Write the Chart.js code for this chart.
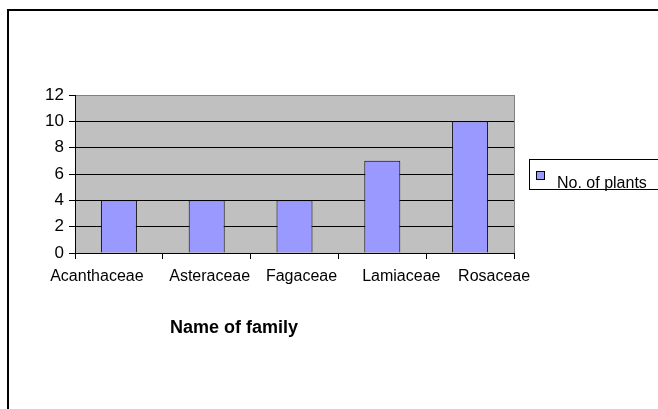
<!DOCTYPE html>
<html>
<head>
<meta charset="utf-8">
<script src="https://cdn.jsdelivr.net/npm/chart.js@4.4.1/dist/chart.umd.min.js"></script>
<style>
  html, body { margin: 0; padding: 0; background: #fff; }
  #wrap { position: relative; width: 658px; height: 409px; overflow: hidden; }
  canvas { display: block; }
</style>
</head>
<body>
<div id="wrap"><canvas id="c" width="658" height="409"></canvas></div>
<script>
const categories = ['Acanthaceae', 'Asteraceae', 'Fagaceae', 'Lamiaceae', 'Rosaceae'];
const plantCounts = [4, 4, 4, 7, 10];
const seriesName = 'No. of plants';
const yTicks = [0, 2, 4, 6, 8, 10, 12];
const xAxisTitle = 'Name of family';

const FONT = "'Liberation Sans', Arial, sans-serif";
// horizontal nudges of the category labels (as laid out in the original)
const labelNudge = [-22, 3, 7, 19, 24];

const decor = {
  id: 'decor',
  beforeDraw(chart) {
    const { ctx, chartArea: a } = chart;
    ctx.save();
    ctx.fillStyle = '#000';
    ctx.fillRect(7, 9, 2, 409);
    ctx.fillRect(7, 9, 651, 2);
    ctx.fillStyle = '#c0c0c0';
    ctx.fillRect(a.left, a.top, a.right - a.left, a.bottom - a.top);
    ctx.restore();
  },
  afterDraw(chart) {
    const { ctx, chartArea: a } = chart;
    const xs = chart.scales.x;
    ctx.save();
    ctx.strokeStyle = '#808080';
    ctx.lineWidth = 1;
    ctx.beginPath();
    ctx.moveTo(Math.round(a.right) + 0.5, a.top);
    ctx.lineTo(Math.round(a.right) + 0.5, a.bottom);
    ctx.stroke();
    // category labels
    ctx.fillStyle = '#000';
    ctx.font = '16px ' + FONT;
    ctx.textAlign = 'center';
    ctx.textBaseline = 'alphabetic';
    xs.ticks.forEach((t, i) => {
      const lbl = chart.data.labels[t.value];
      ctx.fillText(lbl, xs.getPixelForTick(i) + (labelNudge[i] || 0), a.bottom + 28);
    });
    // x-axis title
    ctx.font = 'bold 18px ' + FONT;
    ctx.textAlign = 'left';
    ctx.fillText(xAxisTitle, 170, 333);
    // legend
    const ds = chart.data.datasets[0];
    ctx.strokeStyle = '#000';
    ctx.lineWidth = 1;
    ctx.strokeRect(529.5, 159.5, 200, 30);
    ctx.fillStyle = ds.backgroundColor;
    ctx.fillRect(536, 171, 9, 9);
    ctx.strokeRect(536.5, 171.5, 8, 8);
    ctx.fillStyle = '#000';
    ctx.font = '16px ' + FONT;
    ctx.fillText(ds.label, 557, 188);
    ctx.restore();
  }
};

new Chart(document.getElementById('c'), {
  type: 'bar',
  data: {
    labels: categories,
    datasets: [{
      label: seriesName,
      data: plantCounts,
      backgroundColor: '#9999ff',
      borderColor: '#000',
      borderWidth: 1,
      categoryPercentage: 1.0,
      barPercentage: 0.41
    }]
  },
  options: {
    responsive: false,
    animation: false,
    layout: { padding: { left: 0, top: 95, right: 144, bottom: 0 } },
    plugins: {
      legend: { display: false },
      tooltip: { enabled: false },
      title: { display: false }
    },
    scales: {
      x: {
        offset: true,
        grid: {
          offset: true,
          drawOnChartArea: false,
          drawTicks: true,
          tickLength: 6,
          tickColor: '#000',
          color: '#000'
        },
        border: { display: true, color: '#000', width: 1 },
        ticks: { display: false, autoSkip: false },
        afterFit(scale) { scale.height = 156; }
      },
      y: {
        min: 0,
        max: 12,
        afterBuildTicks(scale) { scale.ticks = yTicks.map(v => ({ value: v })); },
        grid: {
          color: (c) => (c.tick && c.tick.value === 12) ? '#808080' : '#000',
          tickColor: '#000',
          tickLength: 6,
          drawTicks: true
        },
        border: { display: true, color: '#000', width: 1 },
        ticks: {
          color: '#000',
          font: { family: FONT, size: 17 },
          padding: 5
        },
        afterFit(scale) { scale.width = 75; }
      }
    }
  },
  plugins: [decor]
});
</script>
</body>
</html>
